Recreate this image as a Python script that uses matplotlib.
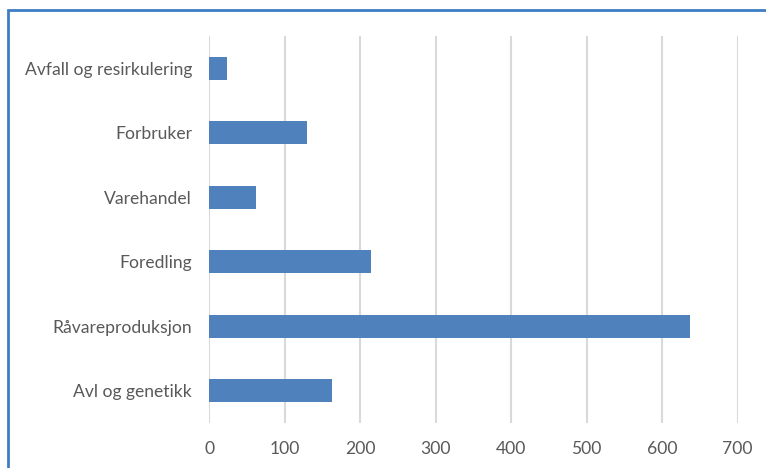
import matplotlib
matplotlib.use("Agg")
import matplotlib.pyplot as plt
from matplotlib.patches import Rectangle

categories = ["Avl og genetikk", "Råvareproduksjon", "Foredling", "Varehandel", "Forbruker", "Avfall og resirkulering"]
values = [162, 637, 214, 62, 130, 24]
xticks = [0, 100, 200, 300, 400, 500, 600, 700]

W, H = 766, 468
fig = plt.figure(figsize=(W / 100, H / 100), dpi=100)
fig.patch.set_facecolor("white")

x0, x1 = 209.3, 737.7
y_top, y_bot = 36, 423
ax = fig.add_axes([x0 / W, 1 - y_bot / H, (x1 - x0) / W, (y_bot - y_top) / H])

ypos = list(range(len(categories)))
ax.barh(ypos, values, height=0.36, color="#4F81BD", zorder=3)
ax.set_xlim(0, 700)
ax.set_ylim(-0.5, len(categories) - 0.5)
ax.set_xticks(xticks)
ax.set_xticklabels([str(t) for t in xticks])
ax.set_yticks(ypos)
ax.set_yticklabels(categories)
for s in ax.spines.values():
    s.set_visible(False)
ax.grid(axis="x", color="#D9D9D9", linewidth=1.5, zorder=0)
ax.tick_params(axis="both", length=0, labelsize=12.6, labelcolor="#595959")
ax.tick_params(axis="x", pad=13)
ax.tick_params(axis="y", pad=12.5)
for lab in ax.get_xticklabels() + ax.get_yticklabels():
    lab.set_family(["Lato", "DejaVu Sans"])

fig.patches.append(Rectangle((8 / W, -0.1), 2, 1.1 - 10 / H, transform=fig.transFigure,
                             fill=False, edgecolor="#3C7DC4", linewidth=2))

fig.savefig("out.png", dpi=100)
